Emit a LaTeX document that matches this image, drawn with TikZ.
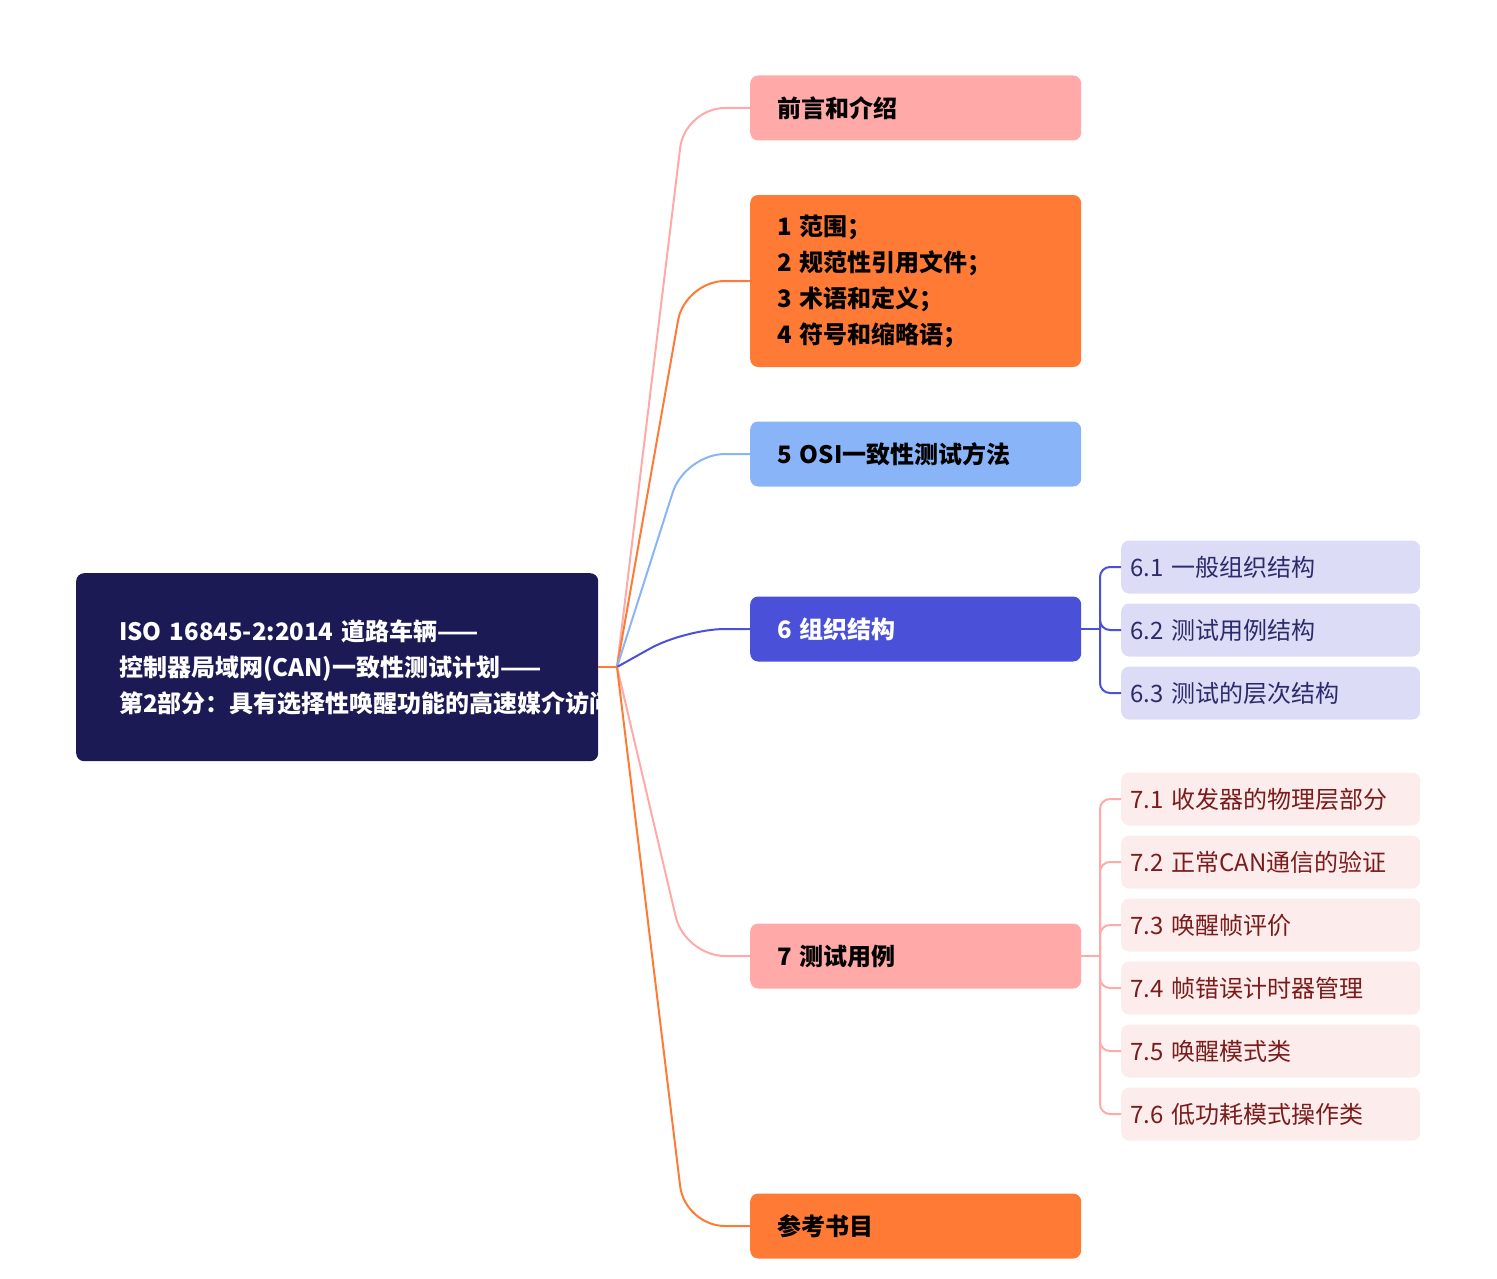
\documentclass[tikz,border=0pt]{standalone}
\usepackage{fontspec}
\setmainfont{Noto Sans CJK SC}
\usetikzlibrary{positioning}
\definecolor{rootblue}{HTML}{1B1A55}
\definecolor{pinkA}{HTML}{FFAAA8}
\definecolor{orangeA}{HTML}{FF7B35}
\definecolor{blueA}{HTML}{8AB4F8}
\definecolor{indigoA}{HTML}{4A50D8}
\definecolor{lilac}{HTML}{DCDCF7}
\definecolor{rose}{HTML}{FDECEC}
\definecolor{navytxt}{HTML}{2B2B6B}
\definecolor{redtxt}{HTML}{7A1C1C}
\tikzset{
  topic/.style={rounded corners=8pt,anchor=west,minimum width=331pt,minimum height=65pt,
    inner xsep=27pt,text width=277pt,align=left,font=\fontsize{24}{36}\selectfont\bfseries},
  sub/.style={rounded corners=8pt,anchor=west,minimum width=299pt,minimum height=53pt,
    inner xsep=9pt,text width=281pt,align=left,font=\fontsize{24}{30}\selectfont},
  link/.style={line width=2pt,rounded corners=40pt},
  twig/.style={line width=2pt,rounded corners=10pt}
}
\begin{document}
\begin{tikzpicture}[x=1pt,y=-1pt]
\useasboundingbox (0,0) rectangle (1497,1279);

\node[rounded corners=8pt,fill=rootblue,text=white,anchor=north west,minimum width=522pt,
  minimum height=188pt,inner xsep=43pt,text width=436pt,align=left,
  font=\fontsize{24}{36}\selectfont\bfseries] (root) at (76,573)
  {ISO 16845-2:2014 道路车辆——控制器局域网(CAN)一致性测试计划——第2部分：具有选择性唤醒功能的高速媒介访问单元};

\node[topic,fill=pinkA] (intro) at (750,108) {前言和介绍};
\node[topic,fill=orangeA,minimum height=172pt] (scope) at (750,281) {1 范围；\\2 规范性引用文件；\\3 术语和定义；\\4 符号和缩略语；};
\node[topic,fill=blueA] (osi) at (750,454) {5 OSI一致性测试方法};
\node[topic,fill=indigoA,text=white] (org) at (750,629) {6 组织结构};
\node[topic,fill=pinkA] (cases) at (750,956) {7 测试用例};
\node[topic,fill=orangeA] (bib) at (750,1226) {参考书目};

\coordinate (hub) at (617,667);
\draw[line width=2pt,orangeA] (root.east|-hub) -- (hub);
\draw[link,pinkA]   (hub) -- (685,108)  -- (intro.west);
\draw[link,orangeA] (hub) -- (685,281)  -- (scope.west);
\draw[link,blueA]   (hub) -- (685,454)  -- (osi.west);
\draw[link,indigoA] (hub) -- (685,629)  -- (org.west);
\draw[link,pinkA]   (hub) -- (685,956)  -- (cases.west);
\draw[link,orangeA] (hub) -- (685,1226) -- (bib.west);

% 6.x
\node[sub,fill=lilac,text=navytxt] (s61) at (1121,567) {6.1 一般组织结构};
\node[sub,fill=lilac,text=navytxt] (s62) at (1121,630) {6.2 测试用例结构};
\node[sub,fill=lilac,text=navytxt] (s63) at (1121,693) {6.3 测试的层次结构};
\draw[line width=2pt,indigoA] (org.east) -- (1100,629);
\foreach \s in {s61,s62,s63}
  \draw[twig,indigoA] (1100,629) -- (1100,0|-\s.west) -- (\s.west);

% 7.x
\node[sub,fill=rose,text=redtxt] (s71) at (1121,799)  {7.1 收发器的物理层部分};
\node[sub,fill=rose,text=redtxt] (s72) at (1121,862)  {7.2 正常CAN通信的验证};
\node[sub,fill=rose,text=redtxt] (s73) at (1121,925)  {7.3 唤醒帧评价};
\node[sub,fill=rose,text=redtxt] (s74) at (1121,988)  {7.4 帧错误计时器管理};
\node[sub,fill=rose,text=redtxt] (s75) at (1121,1051) {7.5 唤醒模式类};
\node[sub,fill=rose,text=redtxt] (s76) at (1121,1114) {7.6 低功耗模式操作类};
\draw[line width=2pt,pinkA] (cases.east) -- (1100,956);
\foreach \s in {s71,s72,s73,s74,s75,s76}
  \draw[twig,pinkA] (1100,956) -- (1100,0|-\s.west) -- (\s.west);
\end{tikzpicture}
\end{document}
